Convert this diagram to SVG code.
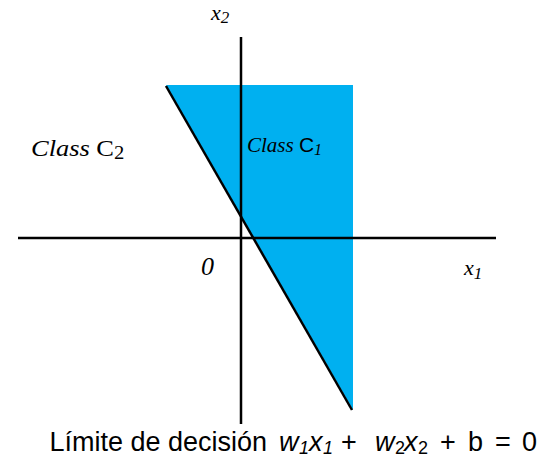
<svg xmlns="http://www.w3.org/2000/svg" width="542" height="457" viewBox="0 0 542 457">
<style>
.ax{stroke:#000;stroke-width:2.5;fill:none}
.tm{font-family:"Liberation Serif",serif;font-style:italic;fill:#000}
.ar{font-family:"Liberation Sans",sans-serif;fill:#000;font-size:27px}
.it{font-style:italic}
.sb{font-size:18px}
</style>
<rect width="542" height="457" fill="#fff"/>
<g id="region-c1">
<polygon points="166,85 353,85 353,410" fill="#00B0F0"/>
</g>
<g id="connectors">
<line class="ax" x1="18" y1="238" x2="496" y2="238"/>
<line class="ax" x1="241" y1="37" x2="241" y2="424"/>
<line class="ax" x1="166" y1="86" x2="352" y2="410"/>
</g>
<g id="label-x2"><text class="tm" x="211" y="20" font-size="22">x<tspan font-size="17" dy="3">2</tspan></text></g>
<g id="label-x1"><text class="tm" x="464" y="275" font-size="22">x<tspan font-size="17" dy="4">1</tspan></text></g>
<g id="label-origin"><text class="tm" x="201" y="275" font-size="26">0</text></g>
<g id="label-class-c2"><text class="tm" transform="translate(31,156) scale(1.15,1)" font-size="23">Class <tspan font-style="normal">C</tspan><tspan font-style="normal" font-size="18" dy="3">2</tspan></text></g>
<g id="label-class-c1"><text class="tm" x="247" y="152" font-size="21">Class <tspan font-family="Liberation Sans,sans-serif" font-style="normal">C</tspan><tspan font-size="16" dy="3">1</tspan></text></g>
<g id="caption">
<text class="ar" x="267" y="451" text-anchor="end">Límite de decisión</text>
<text class="ar" y="451"><tspan class="it" x="279">w</tspan><tspan class="it sb" x="299" dy="3">1</tspan><tspan class="it" x="309" dy="-3">x</tspan><tspan class="it sb" x="323" dy="3">1</tspan><tspan x="341" dy="-3">+</tspan><tspan class="it" x="375">w</tspan><tspan class="sb" x="395" dy="3">2</tspan><tspan class="it" x="404" dy="-3">x</tspan><tspan class="sb" x="418" dy="3">2</tspan><tspan x="440" dy="-3">+</tspan><tspan x="468">b</tspan><tspan x="495">=</tspan><tspan x="522">0</tspan></text>
</g>
</svg>
